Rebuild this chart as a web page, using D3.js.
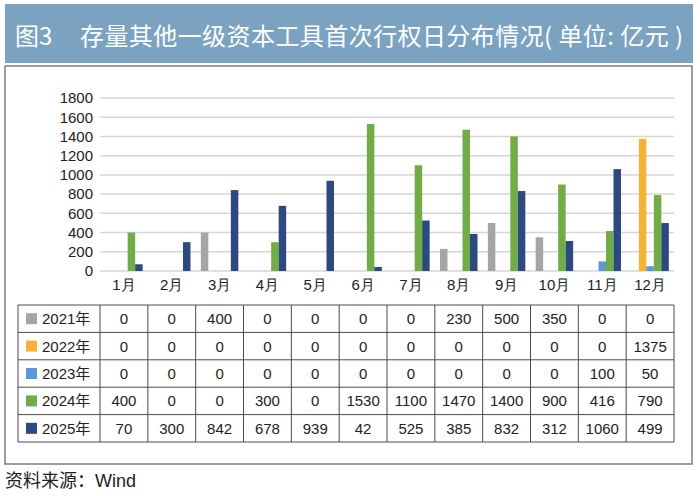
<!DOCTYPE html>
<html><head><meta charset="utf-8">
<script src="https://cdn.jsdelivr.net/npm/d3@7"></script>
<style>
html,body{margin:0;padding:0;background:#fff;}
svg{display:block;font-family:"Liberation Sans","Noto Sans CJK SC",sans-serif;}
</style></head>
<body>
<svg id="c" width="700" height="496"></svg>
<script>
const months = ["1月","2月","3月","4月","5月","6月","7月","8月","9月","10月","11月","12月"];
const seriesNames = ["2021年","2022年","2023年","2024年","2025年"];
const seriesColors = ["#a5a5a5","#f5b335","#5b9bd5","#70ad47","#2c4a7e"];
const v2021 = [0,0,400,0,0,0,0,230,500,350,0,0];
const v2022 = [0,0,0,0,0,0,0,0,0,0,0,1375];
const v2023 = [0,0,0,0,0,0,0,0,0,0,100,50];
const v2024 = [400,0,0,300,0,1530,1100,1470,1400,900,416,790];
const v2025 = [70,300,842,678,939,42,525,385,832,312,1060,499];
const yTicks = [0,200,400,600,800,1000,1200,1400,1600,1800];
const titleLead = "图3";
const titleMain = "存量其他一级资本工具首次行权日分布情况( 单位: 亿元 )";
const sourceText = "资料来源：Wind";

const values = [v2021,v2022,v2023,v2024,v2025];
const svg = d3.select("#c");

// title bar
svg.append("rect").attr("x",5).attr("y",4).attr("width",688).attr("height",59).attr("fill","#7ba3c1");
svg.append("text").attr("x",15).attr("y",45).attr("fill","#fff").attr("font-size",24)
  .attr("font-family","Noto Sans CJK SC").text(titleLead);
svg.append("text").attr("x",80).attr("y",45).attr("fill","#fff").attr("font-size",24)
  .attr("font-family","Noto Sans CJK SC")
  .attr("textLength",603).attr("lengthAdjust","spacing").text(titleMain);

// panel
svg.append("rect").attr("x",5).attr("y",66).attr("width",687).attr("height",398)
  .attr("fill","#fff").attr("stroke","#7d7d7d").attr("stroke-width",1.5);

const x0 = d3.scaleBand().domain(months).range([100,674]).padding(0);
const x1 = d3.scaleBand().domain(seriesNames).range([0,x0.bandwidth()]).paddingInner(0).paddingOuter(0.69);
const y = d3.scaleLinear().domain([0,1800]).range([271,98]);

// grid
const g = svg.append("g");
g.selectAll("line.grid").data(yTicks).join("line")
  .attr("x1",100).attr("x2",674).attr("y1",d=>y(d)).attr("y2",d=>y(d))
  .attr("stroke","#d6d6d6").attr("stroke-width",1.5);

const yAxis = d3.axisLeft(y).tickValues(yTicks).tickSize(0).tickPadding(7).tickFormat(d3.format("d"));
const ya = svg.append("g").attr("transform","translate(100,0)").call(yAxis);
ya.select(".domain").remove();
ya.selectAll("text").attr("font-size",15).attr("fill","#222").attr("font-family","Liberation Sans");

// bars
seriesNames.forEach((s,si)=>{
  svg.append("g").selectAll("rect").data(values[si]).join("rect")
    .attr("x",(d,i)=>x0(months[i])+x1(s))
    .attr("width",x1.bandwidth())
    .attr("y",d=>y(d))
    .attr("height",d=>y(0)-y(d))
    .attr("fill",seriesColors[si]);
});

// x labels
const xAxis = d3.axisBottom(x0).tickSize(0).tickPadding(8);
const xa = svg.append("g").attr("transform","translate(0,271)").call(xAxis);
xa.select(".domain").remove();
xa.selectAll("text").attr("font-size",15).attr("fill","#222");

// table
const tTop = 305, rowH = 27.4, legX = 18;
const tbl = svg.append("g");
const rowsY = d3.range(6).map(i=>tTop+i*rowH);
tbl.selectAll("line.h").data(rowsY).join("line")
  .attr("x1",legX).attr("x2",674).attr("y1",d=>d).attr("y2",d=>d)
  .attr("stroke","#4a4a4a").attr("stroke-width",1);
const colXs = [legX].concat(months.map(m=>x0(m))).concat([674]);
tbl.selectAll("line.v").data(colXs).join("line")
  .attr("x1",d=>d).attr("x2",d=>d).attr("y1",tTop).attr("y2",tTop+5*rowH)
  .attr("stroke","#4a4a4a").attr("stroke-width",1);
seriesNames.forEach((s,si)=>{
  const cy = tTop + si*rowH + rowH/2;
  tbl.append("rect").attr("x",26).attr("y",cy-5.5).attr("width",11).attr("height",11).attr("fill",seriesColors[si]);
  tbl.append("text").attr("x",42).attr("y",cy+5.5).attr("font-size",15).attr("fill","#222").text(s);
  tbl.append("g").selectAll("text").data(values[si]).join("text")
    .attr("x",(d,i)=>x0(months[i])+x0.bandwidth()/2).attr("y",cy+5.5)
    .attr("text-anchor","middle").attr("font-size",15).attr("fill","#222").text(d=>d);
});

// source
svg.append("text").attr("x",5).attr("y",487).attr("font-size",18).attr("fill","#222").text(sourceText);
</script>
</body></html>
